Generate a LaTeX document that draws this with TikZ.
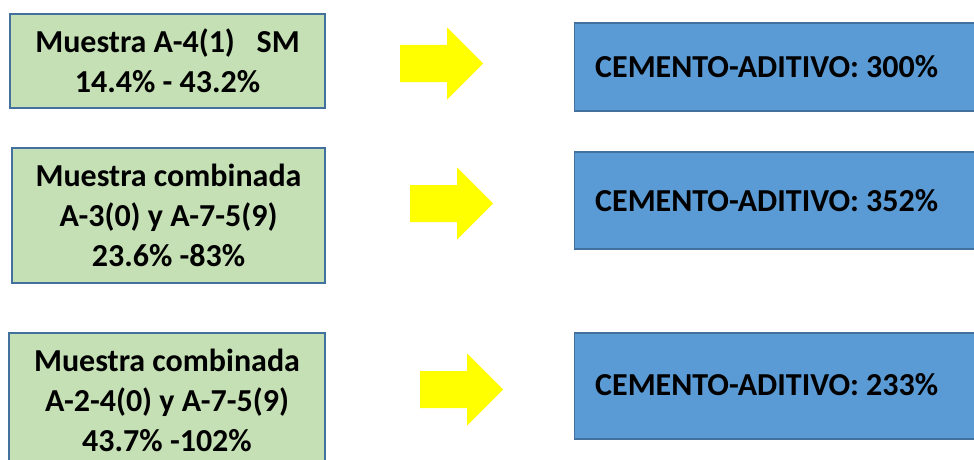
\documentclass[tikz,border=0pt]{standalone}
\usepackage{fontspec}
\setmainfont{Carlito}
\definecolor{greenfill}{HTML}{C5E0B4}
\definecolor{boxborder}{HTML}{41719C}
\definecolor{bluefill}{HTML}{5B9BD5}
\definecolor{arrowyellow}{HTML}{FFFF00}
\begin{document}
\begin{tikzpicture}[x=1pt,y=1pt,
  greenbox/.style={draw=boxborder, line width=1.2pt, fill=greenfill, align=center,
    font=\fontsize{32}{40}\selectfont\bfseries, inner sep=0pt},
  bluebox/.style={draw=boxborder, line width=1.2pt, fill=bluefill, inner sep=0pt},
  bluetext/.style={anchor=west, font=\fontsize{32}{38}\selectfont\bfseries, inner sep=0pt},
  yarrow/.pic={\fill[arrowyellow] (0,-18.5) -- (47,-18.5) -- (47,-36) -- (83,0) -- (47,36) -- (47,18.5) -- (0,18.5) -- cycle;}
]
\useasboundingbox (0,0) rectangle (974,459);
\clip (0,0) rectangle (974,459);
% green boxes
\node[greenbox, minimum width=315pt, minimum height=94pt] (g1) at (167.5,398)
  {Muestra A-4(1)\ \ \ SM\\14.4\% - 43.2\%};
\node[greenbox, minimum width=313pt, minimum height=135pt] (g2) at (168.5,243.5)
  {Muestra combinada\\A-3(0) y A-7-5(9)\\23.6\% -83\%};
\node[greenbox, minimum width=316pt, minimum height=142pt] (g3box) at (167,55) {};
\node[align=center, font=\fontsize{32}{40}\selectfont\bfseries, inner sep=0pt] (g3) at (167,59)
  {Muestra combinada\\A-2-4(0) y A-7-5(9)\\43.7\% -102\%};
% arrows
\pic (a1) at (400,395.5) {yarrow};
\pic (a2) at (410,255.5) {yarrow};
\pic (a3) at (420,69.5) {yarrow};
% blue boxes
\node[bluebox, minimum width=420pt, minimum height=88pt, anchor=west] (b1) at (574,392) {};
\node[bluebox, minimum width=420pt, minimum height=97pt, anchor=west] (b2) at (574,258.5) {};
\node[bluebox, minimum width=420pt, minimum height=106pt, anchor=west] (b3) at (574,73) {};
\node[bluetext] (t1) at (595,392) {CEMENTO-ADITIVO: 300\%};
\node[bluetext] (t2) at (595,258.5) {CEMENTO-ADITIVO: 352\%};
\node[bluetext] (t3) at (595,74) {CEMENTO-ADITIVO: 233\%};
\end{tikzpicture}
\end{document}
